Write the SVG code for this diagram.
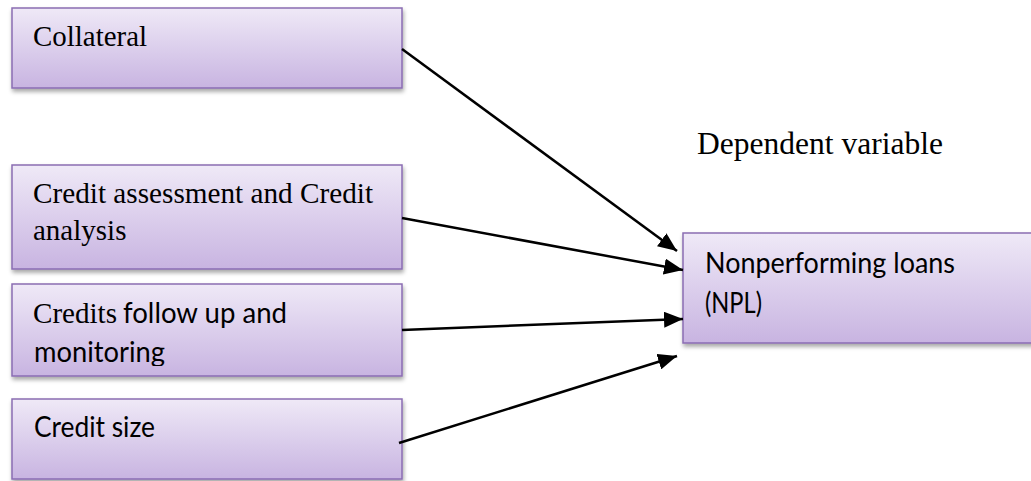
<svg xmlns="http://www.w3.org/2000/svg" width="1031" height="481" viewBox="0 0 1031 481">
<style>
.box{fill:url(#g);stroke:#8a6db3;stroke-width:1.5;filter:url(#sh)}
.tr{font-family:"Liberation Serif","Times New Roman",serif;font-size:29px;fill:#000}
.ca{font-family:Lato,"Open Sans",sans-serif;font-size:29px;fill:#000}
.con{stroke:#000;stroke-width:2.5;fill:none;marker-end:url(#ah)}
</style>
<defs>
<linearGradient id="g" x1="0" y1="0" x2="0" y2="1">
<stop offset="0" stop-color="#efe9f7"/>
<stop offset="1" stop-color="#c8b4e1"/>
</linearGradient>
<filter id="sh" x="-5%" y="-10%" width="115%" height="130%">
<feDropShadow dx="1" dy="3" stdDeviation="2" flood-color="#000" flood-opacity="0.35"/>
</filter>
<marker id="ah" markerUnits="userSpaceOnUse" markerWidth="19" markerHeight="16" refX="19" refY="8" orient="auto">
<path d="M0,0 L19,8 L0,16 z" fill="#000"/>
</marker>
<clipPath id="clip3"><rect x="12" y="284" width="390" height="82"/></clipPath>
</defs>
<g id="node-collateral">
<rect class="box" x="12" y="8" width="390" height="80"/>
<text class="tr" x="33" y="46" textLength="114" lengthAdjust="spacingAndGlyphs">Collateral</text>
</g>
<g id="node-assessment">
<rect class="box" x="12" y="165" width="390" height="104"/>
<text class="tr" x="33" y="203" textLength="340" lengthAdjust="spacingAndGlyphs">Credit assessment and Credit</text>
<text class="tr" x="33" y="240">analysis</text>
</g>
<g id="node-followup">
<rect class="box" x="12" y="284" width="390" height="92"/>
<text class="tr" x="33" y="323" textLength="84" lengthAdjust="spacingAndGlyphs">Credits</text>
<text class="ca" x="123" y="323" textLength="164" lengthAdjust="spacingAndGlyphs">follow up and</text>
<text class="ca" x="34" y="362" textLength="131" lengthAdjust="spacingAndGlyphs" clip-path="url(#clip3)">monitoring</text>
</g>
<g id="node-size">
<rect class="box" x="12" y="399" width="390" height="80"/>
<text class="ca" x="34" y="437" textLength="121" lengthAdjust="spacingAndGlyphs">Credit size</text>
</g>
<g id="node-npl">
<rect class="box" x="683" y="233" width="354" height="110"/>
<text class="ca" x="705" y="273" textLength="250" lengthAdjust="spacingAndGlyphs">Nonperforming loans</text>
<text class="ca" x="705" y="313" textLength="57" lengthAdjust="spacingAndGlyphs">(NPL)</text>
</g>
<g id="label-dependent">
<text x="697" y="154" font-family="Liberation Serif,'Times New Roman',serif" font-size="32" textLength="246" lengthAdjust="spacingAndGlyphs">Dependent variable</text>
</g>
<g id="connectors">
<line class="con" x1="402" y1="49" x2="677" y2="251"/>
<line class="con" x1="402" y1="218" x2="683" y2="270"/>
<line class="con" x1="402" y1="330" x2="683" y2="319"/>
<line class="con" x1="399" y1="443" x2="677" y2="356"/>
</g>
</svg>
